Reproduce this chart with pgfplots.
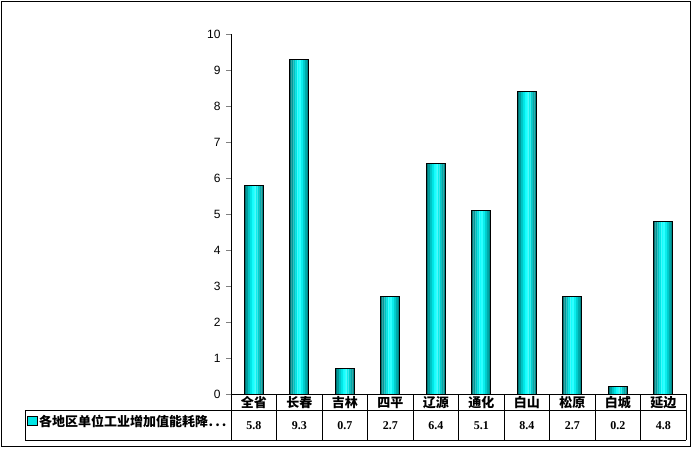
\documentclass[border=0pt]{standalone}
\usepackage{fontspec}
\setmainfont{Liberation Serif}
\newfontfamily\cjk{Noto Sans CJK SC}
\newfontfamily\tickfont{Liberation Sans}
\usepackage{pgfplots}
\usepackage{pgfplotstable}
\pgfplotsset{compat=1.18}
\pgfplotstableread{
x y
0.5 5.8
1.5 9.3
2.5 0.7
3.5 2.7
4.5 6.4
5.5 5.1
6.5 8.4
7.5 2.7
8.5 0.2
9.5 4.8
}\datatable
\definecolor{s1}{RGB}{0,115,115}
\definecolor{s2}{RGB}{0,155,155}
\definecolor{s3}{RGB}{0,195,195}
\definecolor{s4}{RGB}{0,228,228}
\definecolor{s5}{RGB}{20,252,252}
\definecolor{s6}{RGB}{45,255,255}
\definecolor{s7}{RGB}{10,238,238}
\definecolor{s8}{RGB}{0,208,208}
\definecolor{s9}{RGB}{0,172,172}
\definecolor{s10}{RGB}{0,138,138}
\pgfplotsset{strip/.style={ybar, bar width=2pt, draw=none, fill=#1}}
\begin{document}
\begin{tikzpicture}[x=1pt,y=1pt]
\useasboundingbox (0,0) rectangle (692,448);
\begin{axis}[
  at={(231pt,54pt)}, anchor=south west,
  scale only axis, width=455pt, height=360pt,
  xmin=0, xmax=10, ymin=0, ymax=10,
  axis lines=left, axis line style={-, line width=0.8pt},
  /pgf/number format/assume math mode=true,
  ytick={0,1,...,10},
  tick align=outside, major tick length=5pt,
  ytick style={line width=0.8pt},
  yticklabel style={font=\tickfont\fontsize{12}{12}\selectfont, xshift=-2pt},
  xtick={0.5,1.5,...,9.5},
  xtick style={draw=none},
  xticklabels={全省,长春,吉林,四平,辽源,通化,白山,松原,白城,延边},
  xticklabel style={font=\cjk\bfseries\fontsize{13}{13}\selectfont, anchor=base, yshift=-8pt},
  extra x ticks={0.5,1.5,...,9.5},
  extra x tick labels={5.8,9.3,0.7,2.7,6.4,5.1,8.4,2.7,0.2,4.8},
  extra x tick style={xtick style={draw=none}, xticklabel style={font=\bfseries\fontsize{12}{12}\selectfont, anchor=base, yshift=-22pt}},
  clip=false,
]
\addplot[strip=s1, bar shift=-8.55pt] table {\datatable};
\addplot[strip=s2, bar shift=-6.65pt] table {\datatable};
\addplot[strip=s3, bar shift=-4.75pt] table {\datatable};
\addplot[strip=s4, bar shift=-2.85pt] table {\datatable};
\addplot[strip=s5, bar shift=-0.95pt] table {\datatable};
\addplot[strip=s6, bar shift=0.95pt] table {\datatable};
\addplot[strip=s7, bar shift=2.85pt] table {\datatable};
\addplot[strip=s8, bar shift=4.75pt] table {\datatable};
\addplot[strip=s9, bar shift=6.65pt] table {\datatable};
\addplot[strip=s10, bar shift=8.55pt] table {\datatable};
\addplot[ybar, bar width=19pt, bar shift=0pt, draw=black, fill=none, line width=0.7pt] table {\datatable};
\end{axis}
% table grid
\draw[line width=0.8pt] (25,38) -- (686,38);
\draw[line width=0.8pt] (25,8) -- (686,8);
\draw[line width=0.8pt] (25,38) -- (25,8);
\foreach \k in {0,...,10} {
  \draw[line width=0.8pt] ({231+45.5*\k},54) -- ({231+45.5*\k},8);
}
% legend key
\draw[line width=0.6pt, fill=s4] (27.5,23) rectangle (37,32);
\node[anchor=west, inner sep=0pt, font=\cjk\bfseries\fontsize{13}{13}\selectfont] at (39,26.5) {各地区单位工业增加值能耗降\kern0.5pt.\kern2pt.\kern2pt.};
% outer border
\draw[line width=1pt] (1.5,1.5) rectangle (690,446.5);
\end{tikzpicture}
\end{document}
